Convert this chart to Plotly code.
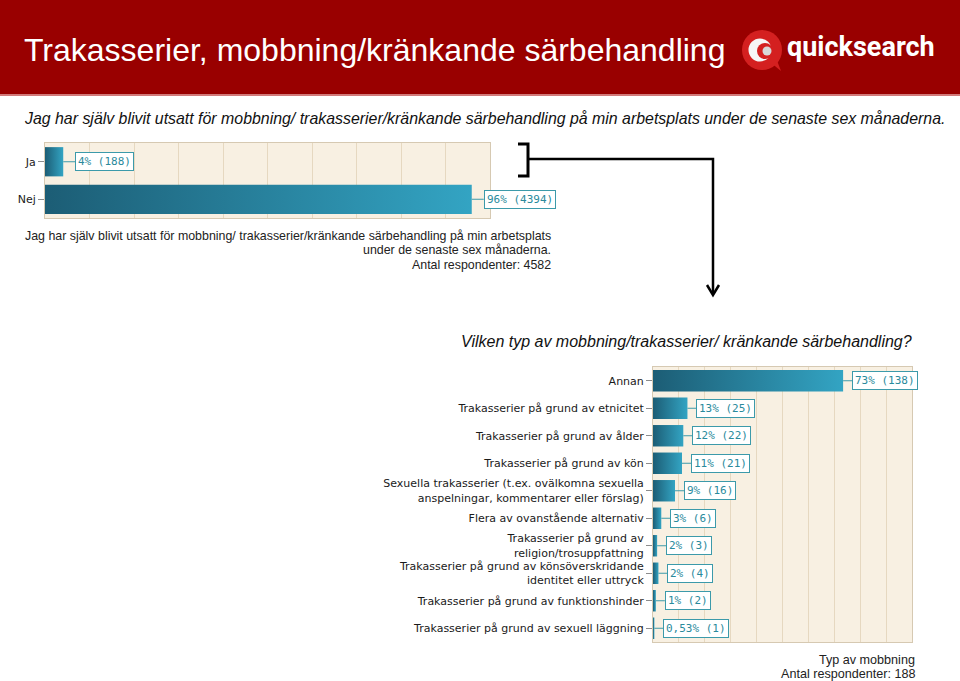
import plotly.graph_objects as go

W, H = 960, 681

# ---------------- data ----------------
TITLE = "Trakasserier, mobbning/kränkande särbehandling"
SUBTITLE = ("Jag har själv blivit utsatt för mobbning/ trakasserier/kränkande särbehandling "
            "på min arbetsplats under de senaste sex månaderna.")
Q2_TITLE = "Vilken typ av mobbning/trakasserier/ kränkande särbehandling?"
LOGO_TEXT = "quicksearch"

top_categories = ["Ja", "Nej"]
top_pct = [4.1, 95.9]
top_labels = ["4% (188)", "96% (4394)"]
top_footer = ["Jag har själv blivit utsatt för mobbning/ trakasserier/kränkande särbehandling på min arbetsplats",
              "under de senaste sex månaderna.",
              "Antal respondenter: 4582"]

bottom_categories = [
    "Annan",
    "Trakasserier på grund av etnicitet",
    "Trakasserier på grund av ålder",
    "Trakasserier på grund av kön",
    "Sexuella trakasserier (t.ex. ovälkomna sexuella<br>anspelningar, kommentarer eller förslag)",
    "Flera av ovanstående alternativ",
    "Trakasserier på grund av<br>religion/trosuppfattning",
    "Trakasserier på grund av könsöverskridande<br>identitet eller uttryck",
    "Trakasserier på grund av funktionshinder",
    "Trakasserier på grund av sexuell läggning",
]
bottom_pct = [73.4, 13.3, 11.7, 11.2, 8.5, 3.2, 1.6, 2.1, 1.1, 0.53]
bottom_labels = ["73% (138)", "13% (25)", "12% (22)", "11% (21)", "9% (16)",
                 "3% (6)", "2% (3)", "2% (4)", "1% (2)", "0,53% (1)"]
bottom_footer = ["Typ av mobbning", "Antal respondenter: 188"]

# ---------------- style ----------------
RED = "#990000"
BAR_DARK = "#1c5d75"
BAR_LIGHT = "#33a4c3"
TEAL_TXT = "#2a8a9c"
TEAL_BORDER = "#3c9aaa"
PLOT_BG = "#f8f0e2"
GRID = "#e6d8c0"
FRAME = "#d6c9b2"
BAR_HALF = 0.39
LABEL_FONT = "DejaVu Sans"
MONO = "DejaVu Sans Mono"


def px(x):
    return x / W


def py(y):
    return 1 - y / H


fig = go.Figure()


def add_bars(values, xa, ya):
    for i, v in enumerate(values):
        fig.add_trace(go.Scatter(
            x=[0, v, v, 0, 0],
            y=[i - BAR_HALF, i - BAR_HALF, i + BAR_HALF, i + BAR_HALF, i - BAR_HALF],
            mode="lines", line=dict(width=0),
            fill="toself",
            fillgradient=dict(type="horizontal",
                              colorscale=[[0, BAR_DARK], [1, BAR_LIGHT]]),
            xaxis=xa, yaxis=ya, hoverinfo="skip", showlegend=False,
        ))


add_bars(top_pct, "x", "y")
add_bars(bottom_pct, "x2", "y2")

annotations = []


def add_labels(values, labels, xref, yref, shift):
    for i, (v, t) in enumerate(zip(values, labels)):
        annotations.append(dict(
            x=v, y=i, xref=xref, yref=yref, text=t,
            showarrow=True, arrowhead=0, arrowwidth=1, arrowcolor=TEAL_BORDER,
            ax=shift, ay=0, xanchor="left",
            bordercolor=TEAL_BORDER, borderwidth=1, borderpad=2, bgcolor="white",
            font=dict(family=MONO, size=11, color=TEAL_TXT),
        ))


add_labels(top_pct, top_labels, "x", "y", 12)
add_labels(bottom_pct, bottom_labels, "x2", "y2", 9)


def paper_text(x, y, text, size, color, anchor="left", family="Liberation Sans"):
    annotations.append(dict(x=px(x), y=py(y), xref="paper", yref="paper", xanchor=anchor,
                            yanchor="middle", text=text, showarrow=False,
                            font=dict(family=family, size=size, color=color)))


paper_text(22, 50, TITLE, 32, "white")
paper_text(861, 47, "<b>" + LOGO_TEXT + "</b>", 27, "white", "center", "Roboto")
paper_text(22, 118, "<i>" + SUBTITLE + "</i>", 15.9, "#111111")
paper_text(686, 341, "<i>" + Q2_TITLE + "</i>", 16, "#111111", "center")
for line, yy in zip(top_footer, [236, 250, 265]):
    paper_text(553, yy, line, 12.4, "#222222", "right")
for line, yy in zip(bottom_footer, [660, 674]):
    paper_text(917, yy, line, 12.6, "#222222", "right")


def path(points):
    return "M " + " L ".join(f"{px(a):.5f},{py(b):.5f}" for a, b in points)


def circle(cx, cy, r, color):
    return dict(type="circle", xref="paper", yref="paper",
                x0=px(cx - r), x1=px(cx + r), y0=py(cy + r), y1=py(cy - r),
                fillcolor=color, line=dict(width=0))


shapes = [
    dict(type="rect", xref="paper", yref="paper", x0=0, x1=1, y0=py(94), y1=1,
         fillcolor=RED, line=dict(width=0), layer="below"),
    dict(type="line", xref="paper", yref="paper", x0=0, x1=1, y0=py(95), y1=py(95),
         line=dict(color="#d27a7a", width=2)),
    # logo icon
    dict(type="path", xref="paper", yref="paper",
         path=path([(770, 62), (781, 71), (776, 58)]) + " Z",
         fillcolor="#d42020", line=dict(width=0)),
    circle(762, 50, 20, "#d42020"),
    circle(760, 50, 11.5, "#f6f6f6"),
    circle(765, 51, 8, "#d42020"),
    circle(767, 51, 4.5, "#d8d8d8"),
    # bracket and connector arrow
    dict(type="path", xref="paper", yref="paper",
         path=path([(518, 144), (528, 144), (528, 176), (518, 176)]),
         line=dict(color="black", width=3)),
    dict(type="path", xref="paper", yref="paper",
         path=path([(528, 159), (713, 159), (713, 294)]),
         line=dict(color="black", width=2.5)),
    dict(type="path", xref="paper", yref="paper",
         path=path([(707, 285), (713, 295), (719, 285)]),
         line=dict(color="black", width=2.5)),
]

axis_common = dict(showgrid=True, gridcolor=GRID, gridwidth=1, range=[0, 100], dtick=10, tick0=0,
                   showticklabels=False, showline=True, linecolor=FRAME, linewidth=1, mirror=True,
                   zeroline=False, ticks="", fixedrange=True)
yaxis_common = dict(showgrid=False, showline=True, linecolor=FRAME, linewidth=1, mirror=True,
                    zeroline=False, ticks="outside", ticklen=6, tickcolor="#8c8c8c", tickwidth=1,
                    tickfont=dict(family=LABEL_FONT, size=11, color="#1a1a1a"), fixedrange=True)

fig.update_layout(
    width=W, height=H,
    margin=dict(l=0, r=0, t=0, b=0),
    paper_bgcolor="white",
    plot_bgcolor=PLOT_BG,
    showlegend=False,
    xaxis=dict(domain=[px(45), px(490)], anchor="y", **axis_common),
    yaxis=dict(domain=[py(218), py(143)], anchor="x", range=[1.5, -0.5],
               tickvals=list(range(len(top_categories))), ticktext=top_categories, **yaxis_common),
    xaxis2=dict(domain=[px(653), px(912)], anchor="y2", **axis_common),
    yaxis2=dict(domain=[py(642), py(367)], anchor="x2", range=[len(bottom_categories) - 0.5, -0.5],
                tickvals=list(range(len(bottom_categories))), ticktext=bottom_categories, **yaxis_common),
    annotations=annotations,
    shapes=shapes,
)

fig.write_html("out.html")
